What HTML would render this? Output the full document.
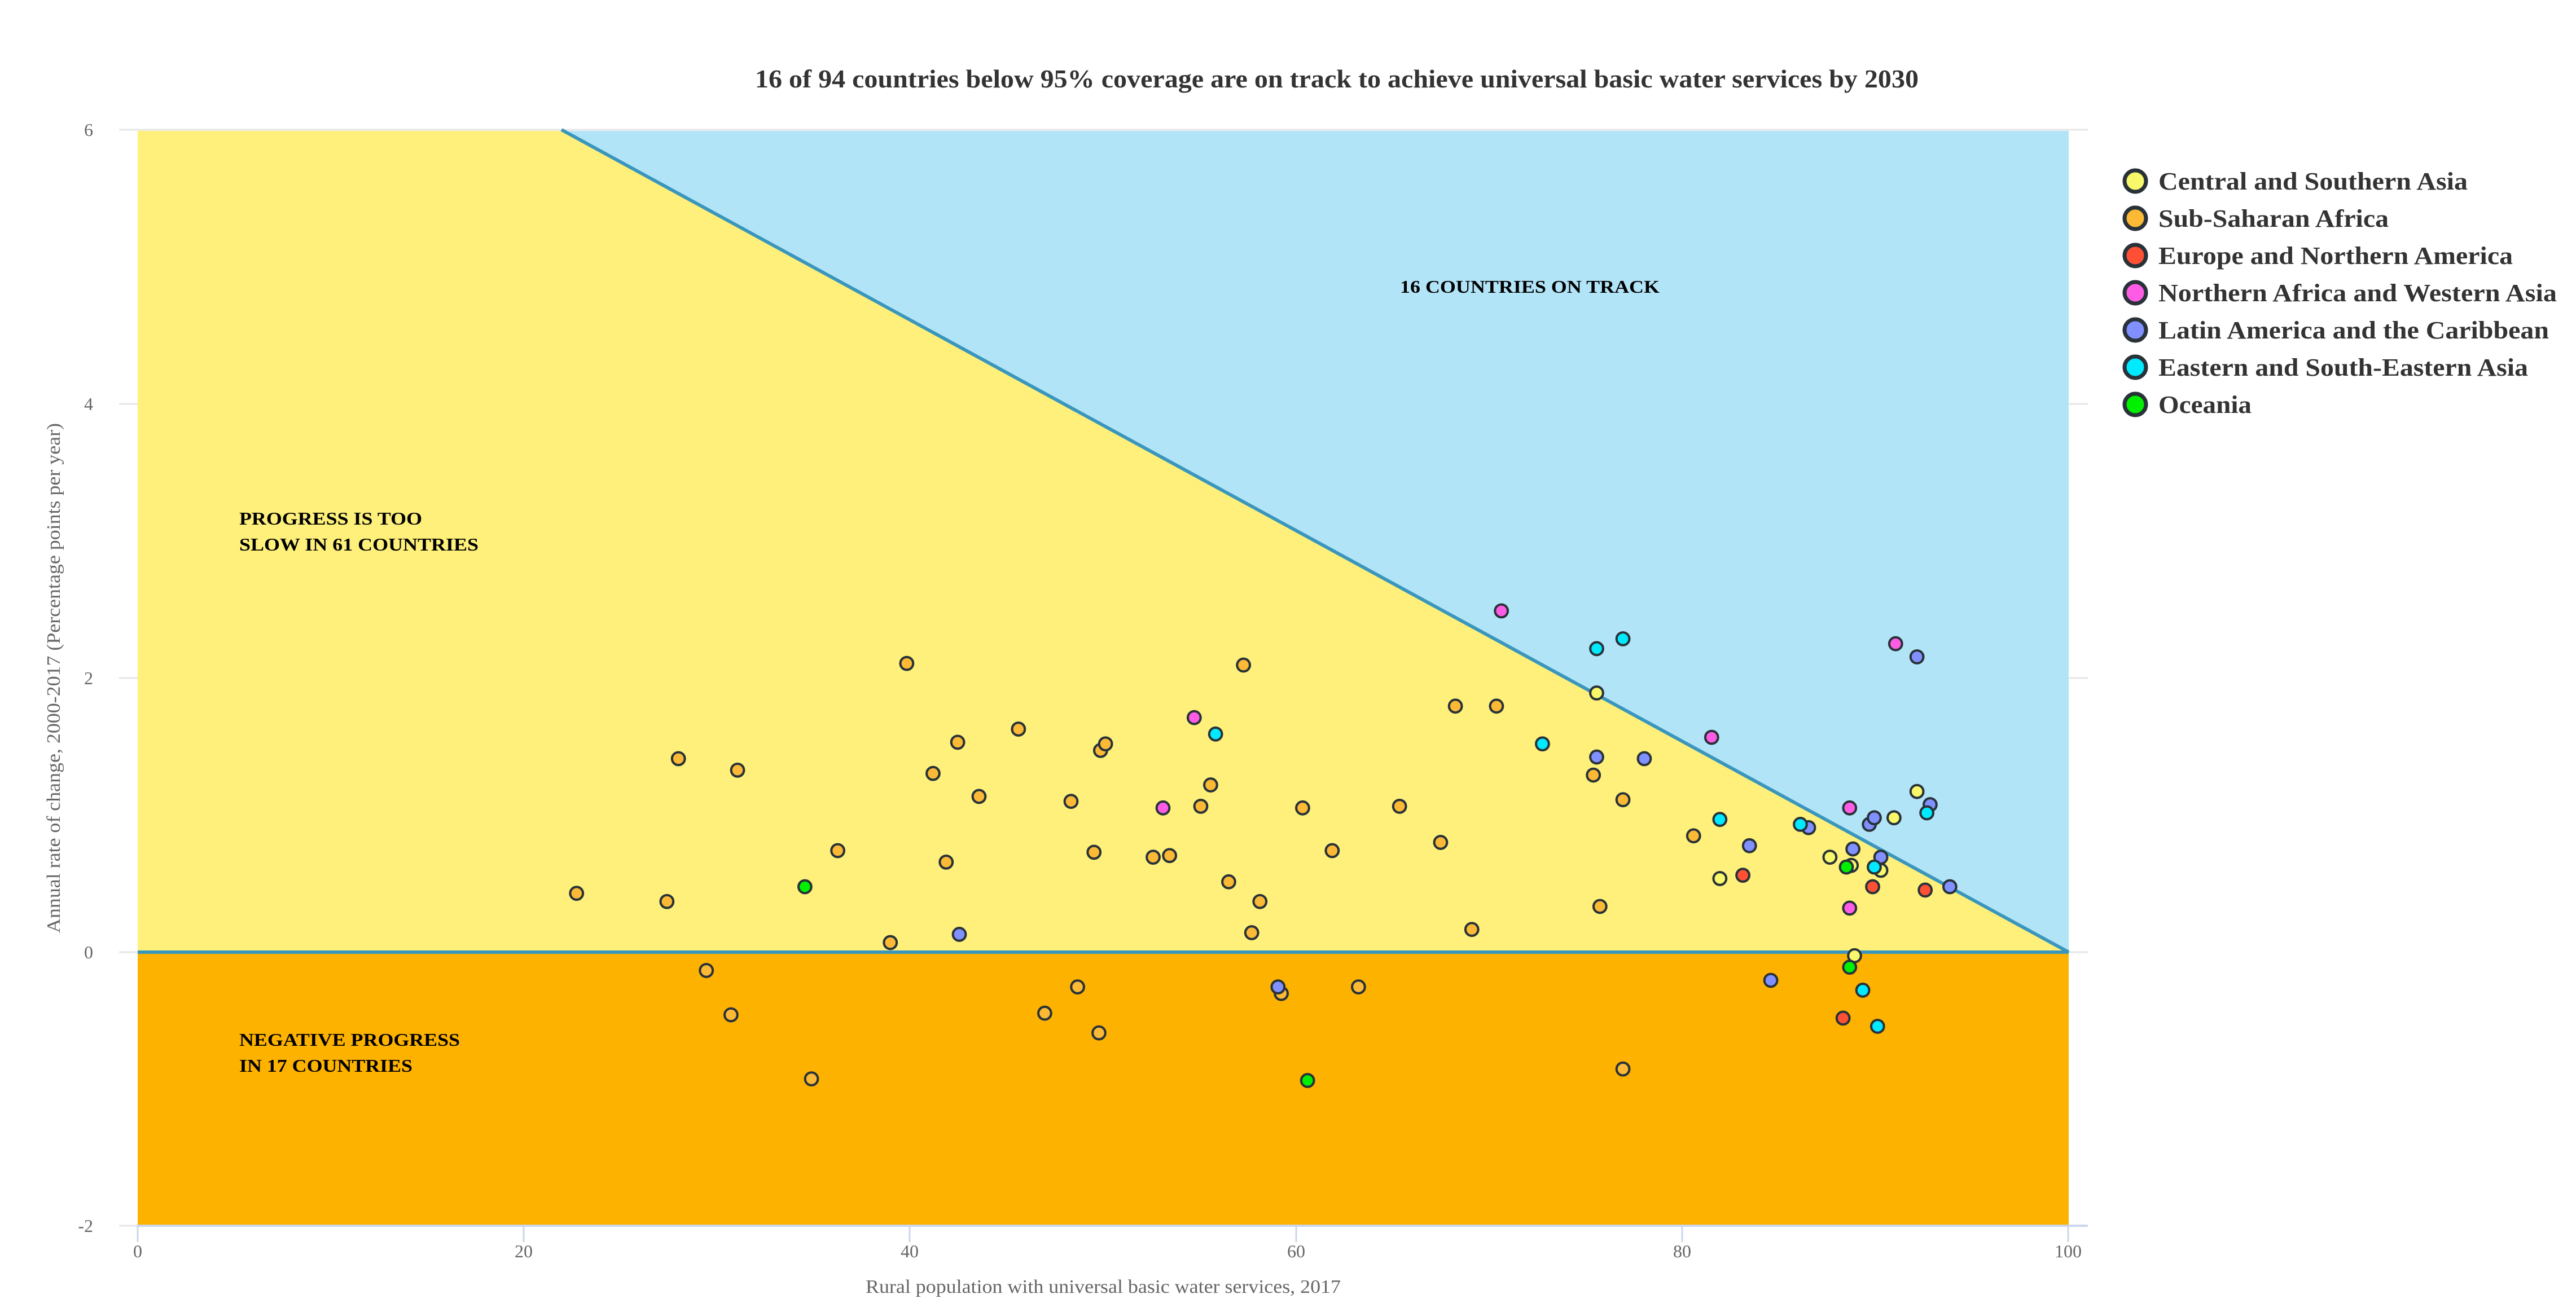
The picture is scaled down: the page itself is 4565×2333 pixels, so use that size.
<!DOCTYPE html>
<html><head><meta charset="utf-8"><style>html,body{margin:0;padding:0;background:#fff}svg{display:block}</style></head>
<body>
<svg width="4565" height="2333" viewBox="0 0 4565 2333" xmlns="http://www.w3.org/2000/svg" font-family="'Liberation Serif', serif">
<rect width="4565" height="2333" fill="#fff"/>
<text x="1338" y="155" font-size="46" font-weight="bold" fill="#333" textLength="2062" lengthAdjust="spacingAndGlyphs">16 of 94 countries below 95% coverage are on track to achieve universal basic water services by 2030</text>
<g stroke="#e6e6e6" stroke-width="3">
<line x1="211" y1="230" x2="3700" y2="230"/><line x1="211" y1="716" x2="3700" y2="716"/><line x1="211" y1="1202" x2="3700" y2="1202"/><line x1="211" y1="1688" x2="3700" y2="1688"/><line x1="211" y1="2173" x2="3700" y2="2173"/>
</g>
<rect x="244" y="232" width="3422" height="1456" fill="#fef07a"/>
<rect x="244" y="1688" width="3422" height="485" fill="#feb200"/>
<polygon points="995,232 3666,232 3666,1688" fill="#b2e4f8"/>
<line x1="995" y1="230" x2="3666" y2="1688" stroke="#3a96bc" stroke-width="6"/>
<line x1="244" y1="1688" x2="3666" y2="1688" stroke="#3a96bc" stroke-width="6"/>
<line x1="242" y1="2173" x2="3700" y2="2173" stroke="#ccd6eb" stroke-width="4"/>
<g stroke="#ccd6eb" stroke-width="3">
<line x1="244" y1="2173" x2="244" y2="2202"/><line x1="928" y1="2173" x2="928" y2="2202"/><line x1="1612" y1="2173" x2="1612" y2="2202"/><line x1="2297" y1="2173" x2="2297" y2="2202"/><line x1="2981" y1="2173" x2="2981" y2="2202"/><line x1="3665" y1="2173" x2="3665" y2="2202"/>
</g>
<g font-size="32" fill="#666" text-anchor="middle">
<text x="244" y="2229">0</text><text x="928" y="2229">20</text><text x="1612" y="2229">40</text><text x="2297" y="2229">60</text><text x="2981" y="2229">80</text><text x="3665" y="2229">100</text>
</g>
<g font-size="32" fill="#666" text-anchor="end">
<text x="165" y="241">6</text><text x="165" y="727">4</text><text x="165" y="1213">2</text><text x="165" y="1699">0</text><text x="165" y="2184">-2</text>
</g>
<text x="1955" y="2292" font-size="34" fill="#666" text-anchor="middle" textLength="842" lengthAdjust="spacingAndGlyphs">Rural population with universal basic water services, 2017</text>
<text transform="translate(106,1202) rotate(-90)" font-size="34" fill="#666" text-anchor="middle" textLength="904" lengthAdjust="spacingAndGlyphs">Annual rate of change, 2000-2017 (Percentage points per year)</text>
<g font-size="32" font-weight="bold" fill="#000">
<text x="424" y="930" textLength="324" lengthAdjust="spacingAndGlyphs">PROGRESS IS TOO</text>
<text x="424" y="976" textLength="424" lengthAdjust="spacingAndGlyphs">SLOW IN 61 COUNTRIES</text>
<text x="424" y="1854" textLength="391" lengthAdjust="spacingAndGlyphs">NEGATIVE PROGRESS</text>
<text x="424" y="1900" textLength="307" lengthAdjust="spacingAndGlyphs">IN 17 COUNTRIES</text>
<text x="2481" y="519" textLength="460" lengthAdjust="spacingAndGlyphs">16 COUNTRIES ON TRACK</text>
</g>
<g transform="translate(0,3) scale(2.911)" stroke="#283238" stroke-width="1.4">
<g fill="#fbb935">
<circle cx="351" cy="543" r="3.9"/><circle cx="413" cy="461" r="3.9"/><circle cx="406" cy="548" r="3.9"/><circle cx="449" cy="468" r="3.9"/><circle cx="430" cy="590" r="3.9"/><circle cx="445" cy="617" r="3.9"/><circle cx="510" cy="517" r="3.9"/><circle cx="494" cy="656" r="3.9"/><circle cx="552" cy="403" r="3.9"/><circle cx="542" cy="573" r="3.9"/><circle cx="568" cy="470" r="3.9"/><circle cx="576" cy="524" r="3.9"/><circle cx="583" cy="451" r="3.9"/><circle cx="596" cy="484" r="3.9"/><circle cx="620" cy="443" r="3.9"/><circle cx="636" cy="616" r="3.9"/><circle cx="652" cy="487" r="3.9"/><circle cx="656" cy="600" r="3.9"/><circle cx="666" cy="518" r="3.9"/><circle cx="669" cy="628" r="3.9"/><circle cx="670" cy="456" r="3.9"/><circle cx="673" cy="452" r="3.9"/><circle cx="702" cy="521" r="3.9"/><circle cx="712" cy="520" r="3.9"/><circle cx="731" cy="490" r="3.9"/><circle cx="737" cy="477" r="3.9"/><circle cx="748" cy="536" r="3.9"/><circle cx="757" cy="404" r="3.9"/><circle cx="762" cy="567" r="3.9"/><circle cx="767" cy="548" r="3.9"/><circle cx="793" cy="491" r="3.9"/><circle cx="811" cy="517" r="3.9"/><circle cx="827" cy="600" r="3.9"/><circle cx="852" cy="490" r="3.9"/><circle cx="877" cy="512" r="3.9"/><circle cx="886" cy="429" r="3.9"/><circle cx="896" cy="565" r="3.9"/><circle cx="911" cy="429" r="3.9"/><circle cx="970" cy="471" r="3.9"/><circle cx="974" cy="551" r="3.9"/><circle cx="988" cy="486" r="3.9"/><circle cx="988" cy="650" r="3.9"/><circle cx="1031" cy="508" r="3.9"/><circle cx="780" cy="604" r="3.9"/>
</g>
<g fill="#f8f86a">
<circle cx="972" cy="421" r="3.9"/><circle cx="1047" cy="534" r="3.9"/><circle cx="1114" cy="521" r="3.9"/><circle cx="1129" cy="581" r="3.9"/><circle cx="1127" cy="526" r="3.9"/><circle cx="1153" cy="497" r="3.9"/><circle cx="1167" cy="481" r="3.9"/><circle cx="1145" cy="529" r="3.9"/>
</g>
<g fill="#ff5036">
<circle cx="1061" cy="532" r="3.9"/><circle cx="1122" cy="619" r="3.9"/><circle cx="1140" cy="539" r="3.9"/><circle cx="1172" cy="541" r="3.9"/>
</g>
<g fill="#ff5ce6">
<circle cx="914" cy="371" r="3.9"/><circle cx="727" cy="436" r="3.9"/><circle cx="708" cy="491" r="3.9"/><circle cx="1042" cy="448" r="3.9"/><circle cx="1126" cy="491" r="3.9"/><circle cx="1154" cy="391" r="3.9"/><circle cx="1126" cy="552" r="3.9"/>
</g>
<g fill="#8090ff">
<circle cx="584" cy="568" r="3.9"/><circle cx="972" cy="460" r="3.9"/><circle cx="1001" cy="461" r="3.9"/><circle cx="1065" cy="514" r="3.9"/><circle cx="1078" cy="596" r="3.9"/><circle cx="1101" cy="503" r="3.9"/><circle cx="1128" cy="516" r="3.9"/><circle cx="1138" cy="501" r="3.9"/><circle cx="1141" cy="497" r="3.9"/><circle cx="1167" cy="399" r="3.9"/><circle cx="1175" cy="489" r="3.9"/><circle cx="1187" cy="539" r="3.9"/><circle cx="778" cy="600" r="3.9"/><circle cx="1145" cy="521" r="3.9"/>
</g>
<g fill="#00eaff">
<circle cx="740" cy="446" r="3.9"/><circle cx="939" cy="452" r="3.9"/><circle cx="972" cy="394" r="3.9"/><circle cx="988" cy="388" r="3.9"/><circle cx="1047" cy="498" r="3.9"/><circle cx="1096" cy="501" r="3.9"/><circle cx="1134" cy="602" r="3.9"/><circle cx="1141" cy="527" r="3.9"/><circle cx="1143" cy="624" r="3.9"/><circle cx="1173" cy="494" r="3.9"/>
</g>
<g fill="#00f000">
<circle cx="490" cy="539" r="3.9"/><circle cx="796" cy="657" r="3.9"/><circle cx="1124" cy="527" r="3.9"/><circle cx="1126" cy="588" r="3.9"/>
</g>
</g>
<g stroke="#283238" stroke-width="7">
<circle cx="3784" cy="321" r="19" fill="#f8f86a"/>
<circle cx="3784" cy="387" r="19" fill="#fbb935"/>
<circle cx="3784" cy="453" r="19" fill="#ff5036"/>
<circle cx="3784" cy="519" r="19" fill="#ff5ce6"/>
<circle cx="3784" cy="585" r="19" fill="#8090ff"/>
<circle cx="3784" cy="651" r="19" fill="#00eaff"/>
<circle cx="3784" cy="717" r="19" fill="#00f000"/>
</g>
<g font-size="44" font-weight="bold" fill="#333">
<text x="3825" y="336" textLength="548" lengthAdjust="spacingAndGlyphs">Central and Southern Asia</text>
<text x="3825" y="402" textLength="408" lengthAdjust="spacingAndGlyphs">Sub-Saharan Africa</text>
<text x="3825" y="468" textLength="628" lengthAdjust="spacingAndGlyphs">Europe and Northern America</text>
<text x="3825" y="534" textLength="706" lengthAdjust="spacingAndGlyphs">Northern Africa and Western Asia</text>
<text x="3825" y="600" textLength="692" lengthAdjust="spacingAndGlyphs">Latin America and the Caribbean</text>
<text x="3825" y="666" textLength="655" lengthAdjust="spacingAndGlyphs">Eastern and South-Eastern Asia</text>
<text x="3825" y="732" textLength="165" lengthAdjust="spacingAndGlyphs">Oceania</text>
</g>
</svg>
</body></html>
